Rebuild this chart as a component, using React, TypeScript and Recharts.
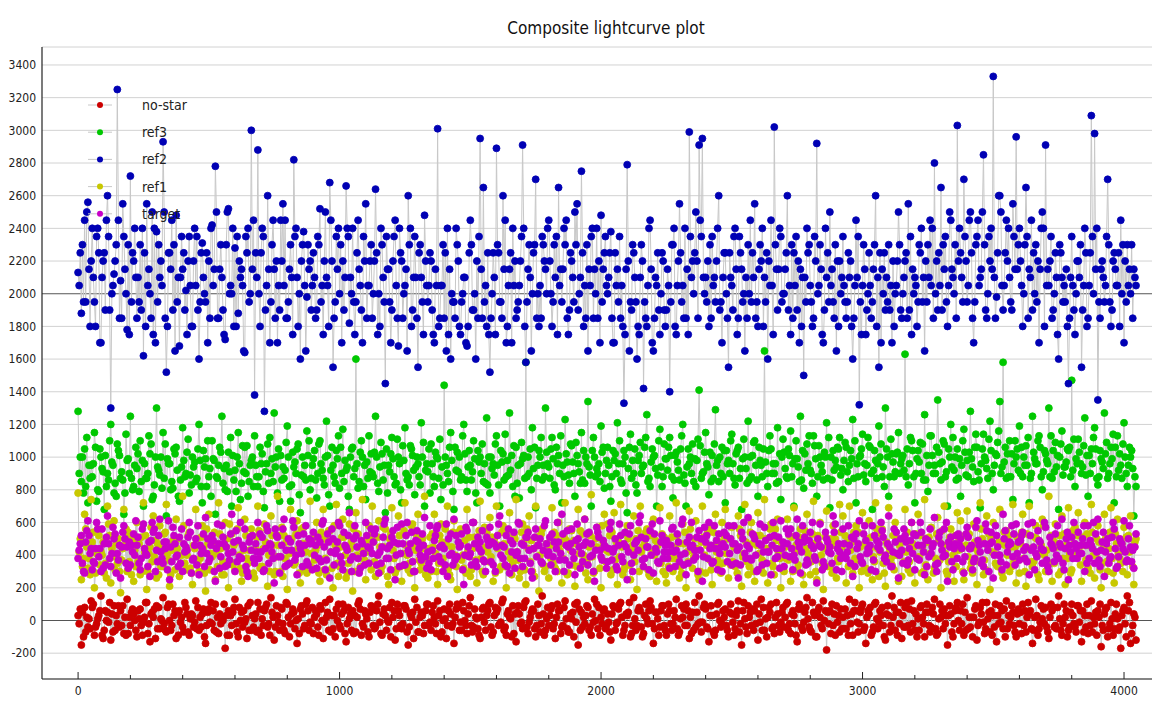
import React from "react";
import { ComposedChart, Line, XAxis, YAxis, CartesianGrid, ReferenceLine, Legend } from "recharts";

// Frame spacing of the sampled points: A, B, C samples are a third of a STEP apart
const STEP = 12.5;

const REF2_A = [
  2130, 1880, 2450, 2560, 2200, 1950, 2400, 1700, 2250, 2600, 1300, 2120, 3250, 2080, 2350, 1780, 2720, 2200,
  1850, 2300, 1620, 2550, 2000, 1750, 2380, 2100, 2930, 1520, 2250, 1900, 2480, 1680, 2150, 2020, 2350, 1800,
  2050, 1600, 2310, 1950, 2200, 2420, 2780, 1850, 2100, 1720, 2520, 2000, 2280, 1880, 2150, 1640, 2400, 3000,
  1380, 2880, 2250, 1280, 2600, 1950, 2150, 1700, 2450, 2050, 1850, 2300, 2820, 2100, 1600, 2380, 1980, 2200,
  2250, 1900, 2520, 1750, 2100, 2680, 1550, 2350, 2000, 2200, 2660, 1820, 2400, 1950, 2150, 1700, 2550, 2050,
  1850, 2640, 2000, 2300, 1450, 2150, 1900, 2450, 1680, 2200, 2050, 2600, 1800, 2350, 1550, 2100, 2480, 1950,
  2200, 1700, 3010, 2050, 1850, 2400, 1600, 1950, 2300, 1750, 2100, 1680, 2450, 1900, 2200, 2950, 2650, 1800,
  1520, 2250, 2890, 1950, 2600, 1700, 2150, 2400, 1850, 2050, 2910, 1580, 2300, 2000, 2700, 1800, 2350, 2150,
  2450, 1800, 2100, 2650, 1950, 2300, 1750, 2200, 2500, 1900, 2750, 2050, 1650, 2350, 2150, 1850, 2480, 2250,
  2000, 2380, 1700, 2150, 1850, 1330, 2790, 1950, 2250, 1600, 2100, 1420, 1800, 2450, 1650, 2050, 1750, 2200,
  1900, 1400, 2300, 1750, 2550, 2050, 1850, 2990, 2200, 2500, 2910, 2950, 2100, 1800, 2350, 1950, 2600, 1700,
  2250, 1550, 2050, 2400, 1850, 2150, 1650, 2300, 1950, 2550, 1800, 2200, 2100, 1600, 2450, 3020, 1900, 2350,
  2000, 2600, 1750, 2250, 1900, 2150, 1500, 2400, 2050, 1850, 2920, 2300, 1700, 2100, 2500, 1950, 1650, 2200,
  2350, 1850, 2100, 1600, 2450, 1320, 2050, 1750, 2250, 1950, 2600, 1550, 2150, 1900, 2300, 1700, 2000, 2500,
  1850, 2200, 2550, 1750, 2100, 1950, 2400, 1650, 2300, 2050, 2800, 1900, 2650, 2150, 1800, 2450, 2000, 3030,
  2250, 2700, 1950, 2500, 1700, 2350, 2100, 2850, 1850, 2200, 3330, 1980, 2600, 1900, 2450, 2100, 2550, 2960,
  2400, 1800, 2650, 2150, 1900, 2300, 1700, 2500, 2910, 2050, 1850, 2250, 1600, 2100, 1950, 1450, 2350, 1750,
  2200, 1550, 2400, 1850, 3090, 2980, 1350, 2150, 1950, 2700, 1800, 2250, 2050, 2450, 1700, 2300, 2000, 2150,
];
const REF2_B = [
  2050, 2300, 1950, 2150, 2400, 1800, 2250, 2100, 1900, 2350, 2000, 2200, 2450, 1850, 2150, 2300, 1950, 2400,
  2100, 1900, 2250, 2050, 1850, 2400, 1950, 2200, 2500, 1800, 2150, 2300, 1950, 2100, 2250, 1750, 2050, 2200,
  2350, 1950, 2100, 2250, 1850, 2050, 2500, 2150, 1900, 2300, 2000, 2400, 1800, 2200, 2050, 2350, 1950, 2150,
  2250, 2000, 2400, 1900, 2150, 2300, 1850, 2050, 2200, 2450, 1950, 2100, 2350, 1800, 2200, 2050, 2300, 1900,
  2100, 2350, 1950, 2200, 2050, 2450, 1850, 2150, 2300, 1900, 2400, 2100, 1950, 2250, 2050, 2350, 1850, 2200,
  2000, 2250, 1800, 2100, 2350, 1950, 2200, 2050, 2400, 1850, 2150, 2300, 1900, 2100, 2250, 1950, 2200, 2050,
  1900, 2150, 1800, 2050, 2250, 1750, 2000, 1850, 2200, 1950, 2100, 1800, 2300, 2000, 1850, 2150, 1950, 2250,
  1850, 2100, 2300, 1950, 2150, 1800, 2250, 2050, 1900, 2200, 2400, 1950, 2100, 2250, 1850, 2050, 2300, 2000,
  2200, 1950, 2350, 2050, 2150, 2450, 1900, 2100, 2300, 2000, 2250, 1850, 2150, 2400, 2000, 2200, 1950, 2350,
  2100, 1850, 2250, 1950, 2050, 1750, 2200, 1900, 2100, 1800, 2300, 1950, 2050, 2150, 1850, 2250, 2000, 1900,
  2150, 1950, 2400, 2050, 2250, 1850, 2150, 2350, 2000, 2200, 2450, 2100, 1950, 2300, 2050, 2200, 1900, 2100,
  2000, 2250, 1900, 2150, 2350, 1950, 2100, 2000, 2250, 1850, 2150, 2400, 1950, 2200, 2050, 2300, 2150, 1950,
  2150, 1900, 2300, 2050, 2200, 1800, 2100, 2250, 1950, 2350, 2000, 2150, 1900, 2250, 2050, 1850, 2200, 2000,
  2050, 1950, 2200, 1850, 2100, 1950, 2300, 1900, 2050, 2150, 1800, 2250, 2000, 2100, 1900, 2200, 2050, 2300,
  2000, 2250, 1900, 2150, 2050, 2300, 1950, 2200, 2100, 2400, 2000, 2250, 1900, 2350, 2050, 2150, 2300, 2200,
  2100, 2350, 2050, 2250, 1950, 2450, 2150, 2300, 2000, 2400, 2100, 2250, 2500, 2050, 2200, 1950, 2350, 2150,
  2200, 2000, 2350, 2100, 2250, 1950, 2150, 2400, 2050, 2200, 1900, 2100, 2300, 1950, 2150, 1850, 2050, 2000,
  2100, 1900, 2250, 2050, 2350, 2150, 1950, 2200, 2050, 2300, 1900, 2150, 2250, 2000, 2200, 2050, 2300, 2100,
];
const REF2_C = [
  2250, 1950, 2500, 1800, 2100, 2350, 1700, 2200, 2450, 1900, 2050, 2300, 1850, 2550, 2000, 1750, 2250, 2100,
  1950, 2400, 1800, 2150, 2500, 1700, 2300, 2050, 1850, 2250, 2450, 1650, 2100, 2350, 1900, 2200, 1800, 2400,
  1900, 2250, 2000, 1700, 2400, 2150, 1850, 2300, 1750, 2500, 2050, 1800, 2350, 2100, 1650, 2250, 2000, 2450,
  2100, 1800, 2350, 2050, 1700, 2450, 2200, 1900, 2550, 1850, 2150, 1750, 2400, 2000, 2300, 1650, 2150, 2050,
  1850, 2300, 2050, 2500, 1800, 2200, 1950, 2400, 1700, 2100, 2350, 2000, 1750, 2450, 1900, 2200, 2050, 2300,
  2200, 1750, 2400, 1950, 2150, 1700, 2350, 1850, 2250, 2000, 1650, 2400, 2100, 1850, 2300, 1750, 2050, 2250,
  1750, 2050, 1850, 2300, 1650, 2150, 1950, 2400, 1800, 2000, 1700, 2250, 1900, 1600, 2350, 1850, 2050, 1750,
  2000, 1750, 2250, 1850, 2450, 2050, 1700, 2200, 1950, 2350, 1800, 2150, 1650, 2300, 2000, 1850, 2200, 2400,
  2000, 2300, 1750, 2150, 2400, 1850, 2250, 1950, 2550, 2100, 1800, 2300, 2050, 1850, 2400, 1700, 2150, 2050,
  2250, 1700, 2050, 2350, 1800, 2150, 1650, 2300, 1950, 1750, 2200, 1850, 2400, 1700, 2100, 1900, 2250, 1800,
  2050, 2300, 1800, 2200, 1950, 2400, 1750, 2100, 2250, 1850, 2350, 2000, 2200, 1850, 2100, 2400, 1950, 2250,
  1850, 2100, 2350, 1750, 2250, 2000, 1850, 2450, 2100, 1950, 2300, 1800, 2250, 2050, 1750, 2150, 2400, 2000,
  2250, 2050, 1850, 2350, 1700, 2100, 1950, 2300, 1800, 2200, 2050, 1750, 2400, 1950, 2150, 2300, 1800, 2100,
  1950, 2250, 1800, 2050, 2350, 1750, 2150, 2000, 1850, 2300, 2100, 1700, 2250, 1950, 2050, 1800, 2200, 1900,
  2100, 1850, 2350, 2000, 1800, 2250, 2100, 1950, 2450, 1850, 2200, 2050, 2300, 1950, 2500, 2100, 1850, 2400,
  1950, 2200, 2450, 1850, 2300, 2050, 2500, 1900, 2350, 2150, 1850, 2600, 2050, 2250, 2400, 1900, 2150, 2300,
  2050, 2300, 1850, 2450, 2000, 2200, 2400, 1800, 2150, 2350, 2000, 1750, 2250, 2050, 1800, 2100, 1900, 2200,
  2300, 2050, 1800, 2250, 2000, 2400, 1850, 2100, 2350, 1950, 2200, 2050, 1800, 2300, 1950, 2150, 1850, 2050,
];

const REF3_A = [
  1280, 850, 1050, 720, 950, 1150, 800, 1000, 680, 900, 1200, 780, 1080, 870, 650, 980, 1250, 820,
  930, 1100, 700, 870, 1020, 760, 1300, 890, 1150, 640, 960, 810, 1060, 730, 1180, 900, 780, 1000,
  850, 1200, 720, 990, 880, 1100, 650, 950, 1250, 800, 1030, 700, 920, 1150, 840, 1060, 760, 980,
  1130, 820, 960, 690, 1080, 900, 1270, 780, 1010, 870, 1190, 730, 940, 1050, 660, 880, 1160, 800,
  990, 750, 1100, 870, 1220, 700, 950, 1040, 810, 1170, 920, 680, 1060, 1600, 850, 1000, 740, 1130,
  900, 1250, 790, 1020, 660, 950, 1120, 830, 1000, 720, 1180, 880, 1050, 770, 960, 1210, 700, 910,
  1080, 820, 990, 740, 1440, 900, 1150, 680, 1030, 860, 1200, 790, 950, 1100, 720, 1000, 850, 1240,
  780, 960, 1130, 700, 1020, 880, 1270, 820, 1060, 750, 990, 1580, 900, 1180, 690, 1040, 860, 1300,
  940, 1120, 800, 1010, 720, 1230, 890, 1070, 760, 960, 1150, 840, 1340, 700, 1000, 900, 1190, 810,
  1060, 730, 980, 1210, 860, 1040, 660, 1140, 900, 780, 1090, 950, 1260, 820, 1000, 700, 1170, 880,
  990, 1120, 750, 1030, 860, 1200, 700, 960, 1080, 820, 1410, 900, 1150, 770, 1010, 1290, 850, 1060,
  720, 980, 1140, 830, 1060, 680, 1000, 1220, 880, 1100, 760, 950, 1650, 820, 1050, 900, 1180, 740,
  1030, 870, 1160, 700, 990, 1250, 810, 1080, 920, 1130, 760, 1000, 860, 1210, 690, 1040, 940, 1120,
  800, 1060, 950, 1230, 720, 1000, 1140, 850, 1070, 680, 980, 1190, 880, 1300, 760, 1020, 910, 1150,
  990, 1630, 830, 1100, 720, 1040, 900, 1260, 790, 1130, 950, 1350, 860, 1080, 700, 1200, 920, 1050,
  760, 1170, 980, 1280, 850, 1060, 690, 1140, 930, 1220, 800, 1010, 1340, 1580, 870, 1100, 740, 1000,
  1190, 880, 1070, 720, 1250, 960, 1130, 800, 1020, 1300, 870, 1090, 680, 1160, 940, 1040, 1470, 820,
  1110, 900, 1240, 760, 1050, 1180, 830, 990, 1270, 870, 1060, 720, 1130, 950, 1210, 820, 1000, 640,
];
const REF3_B = [
  900, 1000, 820, 950, 880, 1060, 790, 930, 1010, 860, 970, 840, 1040, 910, 780, 990, 870, 950,
  1020, 850, 960, 900, 1080, 830, 940, 1000, 870, 990, 800, 1050, 920, 860, 980, 1030, 890, 940,
  870, 980, 1040, 820, 930, 990, 880, 1060, 840, 950, 910, 1010, 790, 960, 1070, 900, 850, 1000,
  950, 880, 1020, 910, 840, 990, 940, 1050, 860, 920, 1000, 830, 970, 1080, 890, 950, 1010, 870,
  1040, 900, 960, 830, 1010, 920, 880, 990, 1060, 850, 940, 1000, 880, 960, 1030, 820, 970, 910,
  880, 1000, 940, 860, 1050, 910, 990, 840, 960, 1070, 900, 830, 1010, 940, 880, 1000, 920, 1050,
  960, 1030, 870, 940, 1000, 850, 980, 1060, 910, 880, 1020, 940, 860, 990, 1040, 900, 960, 830,
  1000, 890, 950, 1040, 860, 980, 920, 1070, 840, 960, 1010, 880, 1050, 930, 870, 1000, 950, 1030,
  870, 990, 1060, 900, 950, 1020, 840, 970, 1090, 910, 860, 1000, 940, 1040, 880, 960, 1030, 900,
  950, 880, 1020, 960, 840, 1000, 930, 870, 1050, 980, 900, 1060, 850, 970, 1010, 890, 940, 1080,
  920, 1010, 860, 970, 1050, 890, 940, 1000, 850, 980, 1070, 910, 960, 1030, 870, 950, 1000, 880,
  1040, 900, 960, 1020, 870, 990, 930, 860, 1010, 950, 1060, 880, 970, 1040, 900, 960, 850, 1000,
  930, 1050, 880, 990, 940, 860, 1020, 960, 900, 1070, 880, 950, 1030, 870, 1000, 920, 1060, 890,
  980, 910, 1040, 870, 960, 1010, 890, 950, 1060, 920, 870, 1000, 940, 1050, 880, 970, 1020, 900,
  1010, 880, 960, 1040, 900, 970, 1080, 860, 950, 1010, 900, 1030, 970, 880, 1050, 940, 1000, 870,
  950, 1030, 880, 990, 1060, 910, 960, 1000, 870, 1040, 950, 1090, 900, 970, 1020, 880, 960, 1050,
  900, 1000, 950, 870, 1030, 960, 1060, 910, 980, 880, 1040, 940, 1000, 890, 970, 1060, 920, 990,
  1030, 940, 890, 1010, 960, 1050, 880, 970, 1020, 900, 990, 1060, 920, 870, 1000, 950, 1040, 880,
];
const REF3_C = [
  1000, 780, 1120, 870, 960, 730, 1050, 910, 820, 1100, 950, 760, 1010, 860, 1140, 900, 800, 1060,
  790, 980, 870, 1130, 740, 1000, 920, 810, 1080, 960, 850, 1020, 760, 940, 880, 1110, 830, 970,
  1050, 820, 940, 1100, 760, 980, 870, 1030, 930, 790, 1120, 860, 1000, 740, 910, 1070, 950, 820,
  880, 1060, 790, 960, 1120, 850, 1000, 730, 940, 1090, 820, 1030, 900, 770, 1000, 860, 1100, 950,
  860, 1080, 920, 1000, 770, 1060, 840, 1130, 900, 980, 760, 1050, 930, 810, 1100, 950, 870, 1020,
  1030, 840, 1090, 950, 780, 1020, 880, 1110, 800, 980, 860, 1070, 920, 1000, 830, 1090, 960, 780,
  880, 1000, 1110, 830, 950, 1060, 790, 920, 1000, 1130, 860, 1040, 910, 780, 970, 1080, 840, 1000,
  930, 1080, 830, 970, 1140, 890, 1010, 760, 950, 1090, 870, 1000, 800, 1060, 950, 1120, 880, 960,
  1050, 830, 960, 1130, 880, 970, 1080, 900, 1010, 840, 1040, 960, 890, 1120, 930, 850, 1060, 980,
  820, 1040, 900, 1100, 960, 780, 1060, 980, 830, 1010, 940, 1120, 870, 1050, 930, 1100, 820, 990,
  1060, 880, 1010, 920, 1130, 840, 1050, 900, 990, 1110, 870, 1030, 940, 850, 1080, 980, 900, 1040,
  960, 1100, 870, 1040, 930, 1110, 840, 1000, 1090, 860, 980, 1050, 900, 1130, 960, 840, 1020, 1110,
  880, 1010, 960, 1100, 850, 1040, 920, 1130, 840, 990, 1070, 910, 1000, 1120, 860, 980, 1050, 930,
  1090, 850, 990, 1100, 880, 1050, 960, 1120, 900, 1040, 960, 1080, 820, 1000, 1110, 880, 1030, 960,
  920, 1050, 1120, 880, 990, 1090, 860, 1010, 1130, 900, 1060, 960, 1100, 910, 1000, 1120, 860, 990,
  1100, 890, 1030, 940, 1140, 860, 1050, 980, 1110, 900, 1020, 1160, 940, 1060, 880, 1020, 1100, 920,
  1060, 950, 1120, 900, 990, 1100, 880, 1040, 960, 1130, 910, 1010, 1080, 940, 1050, 880, 1110, 960,
  960, 1070, 1010, 900, 1120, 870, 1040, 930, 1090, 960, 1140, 880, 1020, 1080, 900, 1060, 930, 820,
];

const REF1_A = [
  780, 250, 650, 320, 740, 200, 560, 420, 290, 700, 230, 610, 350, 170, 680, 300, 520, 240,
  600, 280, 720, 190, 450, 640, 260, 580, 330, 710, 210, 490, 620, 270, 760, 310, 540, 220,
  680, 300, 580, 180, 650, 390, 250, 720, 280, 600, 200, 530, 310, 690, 240, 620, 350, 560,
  260, 700, 330, 590, 210, 640, 280, 760, 300, 520, 190, 680, 340, 610, 230, 570, 290, 730,
  320, 600, 240, 680, 280, 550, 200, 710, 330, 620, 260, 590, 180, 660, 300, 740, 250, 580,
  700, 270, 610, 330, 560, 220, 690, 290, 640, 240, 720, 310, 580, 200, 650, 350, 760, 260,
  300, 650, 220, 590, 340, 700, 250, 610, 190, 560, 320, 680, 270, 600, 230, 730, 280, 540,
  630, 240, 700, 310, 580, 200, 660, 350, 740, 260, 590, 220, 640, 300, 700, 180, 560, 330,
  260, 690, 320, 600, 230, 720, 290, 550, 210, 680, 340, 620, 250, 770, 300, 570, 200, 650,
  590, 280, 660, 220, 710, 310, 580, 250, 640, 190, 700, 330, 560, 270, 620, 240, 690, 300,
  230, 640, 300, 720, 260, 590, 200, 670, 320, 610, 250, 700, 290, 560, 220, 650, 340, 600,
  680, 260, 570, 330, 640, 210, 710, 280, 600, 240, 660, 310, 740, 230, 590, 280, 620, 200,
  300, 620, 240, 690, 310, 560, 220, 650, 280, 730, 250, 600, 190, 670, 330, 580, 260, 710,
  640, 230, 700, 290, 580, 200, 660, 320, 610, 250, 720, 270, 560, 210, 690, 340, 600, 240,
  270, 680, 310, 600, 230, 650, 290, 740, 250, 570, 320, 630, 200, 700, 280, 560, 240, 660,
  610, 250, 670, 320, 590, 220, 720, 280, 640, 190, 600, 340, 680, 260, 550, 300, 710, 230,
  290, 650, 210, 700, 330, 580, 250, 620, 300, 760, 240, 590, 280, 640, 220, 690, 310, 570,
  660, 240, 600, 320, 710, 260, 580, 200, 650, 300, 690, 230, 620, 350, 570, 280, 640, 220,
];
const REF1_B = [
  420, 330, 560, 380, 480, 290, 520, 400, 350, 590, 440, 310, 500, 370, 460, 540, 280, 430,
  360, 510, 420, 300, 570, 390, 470, 330, 530, 410, 280, 490, 440, 350, 580, 400, 320, 460,
  500, 380, 440, 560, 310, 470, 410, 530, 360, 450, 590, 340, 480, 400, 290, 520, 430, 370,
  440, 550, 330, 480, 400, 520, 300, 460, 570, 380, 430, 500, 350, 440, 560, 310, 480, 410,
  370, 460, 540, 310, 490, 420, 580, 350, 450, 510, 290, 440, 560, 400, 330, 480, 420, 520,
  480, 340, 450, 570, 380, 500, 430, 310, 520, 410, 460, 350, 590, 430, 370, 500, 280, 440,
  530, 410, 350, 480, 560, 320, 450, 400, 540, 370, 490, 430, 310, 510, 450, 380, 570, 420,
  390, 500, 440, 330, 470, 550, 380, 520, 420, 300, 480, 560, 360, 440, 510, 400, 340, 470,
  460, 350, 520, 430, 380, 490, 560, 340, 470, 410, 530, 290, 450, 390, 500, 440, 580, 360,
  420, 540, 370, 480, 450, 330, 500, 430, 360, 550, 420, 470, 310, 520, 400, 460, 350, 510,
  480, 380, 450, 520, 330, 470, 420, 560, 390, 440, 300, 510, 460, 370, 540, 420, 480, 350,
  410, 500, 360, 440, 560, 390, 480, 330, 470, 520, 410, 370, 500, 440, 350, 560, 420, 470,
  450, 370, 510, 420, 340, 490, 550, 410, 360, 470, 520, 400, 440, 330, 500, 460, 380, 540,
  390, 480, 430, 540, 370, 450, 310, 500, 440, 390, 560, 420, 350, 480, 430, 520, 400, 460,
  500, 420, 360, 470, 530, 390, 450, 340, 510, 460, 380, 490, 550, 410, 360, 470, 520, 430,
  440, 520, 390, 350, 480, 420, 560, 370, 460, 500, 410, 330, 470, 540, 400, 450, 360, 510,
  470, 380, 530, 440, 360, 500, 410, 580, 430, 350, 490, 450, 520, 380, 460, 410, 550, 400,
  420, 510, 370, 460, 540, 400, 480, 350, 500, 440, 380, 530, 410, 470, 360, 520, 440, 480,
];
const REF1_C = [
  500, 380, 450, 280, 540, 410, 340, 480, 260, 520, 390, 470, 300, 440, 560, 360, 490, 330,
  470, 300, 520, 410, 360, 490, 280, 450, 540, 370, 430, 310, 500, 400, 350, 520, 290, 440,
  350, 510, 290, 470, 410, 540, 330, 440, 280, 500, 360, 460, 560, 320, 430, 380, 510, 290,
  510, 320, 440, 560, 300, 460, 390, 520, 270, 480, 410, 350, 530, 290, 470, 420, 340, 500,
  430, 290, 500, 380, 550, 320, 460, 270, 510, 400, 350, 480, 300, 530, 440, 370, 490, 310,
  360, 510, 300, 450, 270, 530, 380, 470, 330, 550, 400, 290, 460, 520, 310, 440, 380, 510,
  450, 300, 520, 380, 470, 280, 540, 330, 460, 400, 290, 510, 440, 370, 550, 300, 450, 360,
  510, 290, 460, 540, 330, 420, 280, 500, 370, 540, 310, 440, 490, 270, 460, 530, 300, 420,
  380, 540, 300, 470, 510, 280, 430, 490, 330, 550, 400, 360, 520, 290, 450, 320, 480, 430,
  520, 310, 480, 390, 280, 530, 340, 460, 500, 300, 450, 540, 280, 420, 490, 350, 530, 280,
  330, 510, 380, 470, 290, 540, 360, 430, 500, 280, 480, 400, 540, 310, 460, 370, 290, 520,
  500, 340, 450, 290, 520, 410, 360, 540, 300, 460, 520, 290, 440, 560, 330, 490, 380, 310,
  380, 520, 300, 460, 510, 280, 440, 390, 530, 300, 470, 350, 510, 420, 290, 500, 360, 450,
  520, 330, 480, 380, 540, 300, 470, 290, 510, 360, 440, 530, 290, 460, 380, 310, 500, 420,
  360, 540, 290, 450, 380, 520, 300, 480, 410, 290, 530, 370, 460, 300, 510, 400, 330, 490,
  300, 460, 530, 290, 440, 360, 500, 310, 530, 420, 350, 480, 290, 460, 520, 330, 450, 370,
  540, 300, 440, 360, 510, 280, 460, 400, 300, 520, 350, 470, 300, 530, 380, 290, 470, 520,
  340, 460, 530, 290, 400, 500, 310, 450, 360, 540, 290, 470, 380, 300, 510, 420, 330, 500,
];

const TARGET_A = [
  380, 520, 290, 610, 440, 350, 560, 300, 470, 640, 330, 500, 410, 260, 580, 450, 340, 530,
  460, 310, 590, 400, 270, 540, 430, 620, 350, 480, 250, 570, 390, 510, 300, 450, 600, 370,
  500, 280, 440, 630, 360, 520, 240, 470, 580, 330, 410, 650, 300, 490, 380, 560, 270, 430,
  350, 600, 420, 310, 550, 460, 230, 510, 390, 620, 340, 480, 570, 280, 440, 530, 360, 470,
  540, 320, 480, 610, 370, 260, 500, 430, 580, 310, 450, 660, 390, 520, 290, 470, 600, 350,
  410, 560, 290, 450, 620, 380, 510, 250, 470, 590, 340, 430, 540, 300, 480, 370, 630, 420,
  310, 490, 580, 360, 440, 270, 530, 620, 390, 460, 220, 550, 410, 600, 330, 480, 370, 510,
  570, 340, 450, 640, 380, 520, 290, 470, 400, 590, 330, 510, 430, 260, 560, 460, 350, 610,
  420, 530, 300, 480, 650, 370, 450, 560, 280, 500, 410, 620, 340, 470, 240, 540, 390, 460,
  360, 600, 440, 310, 520, 470, 250, 580, 400, 490, 640, 330, 450, 550, 290, 420, 610, 380,
  490, 320, 570, 430, 360, 620, 280, 510, 460, 390, 550, 240, 480, 600, 350, 440, 530, 300,
  450, 580, 340, 470, 260, 540, 410, 630, 370, 500, 310, 460, 570, 420, 280, 520, 390, 610,
  330, 470, 560, 400, 620, 290, 480, 370, 540, 440, 230, 590, 360, 500, 450, 640, 310, 420,
  560, 380, 460, 270, 530, 610, 350, 490, 420, 580, 300, 470, 550, 400, 640, 330, 480, 260,
  430, 520, 370, 600, 310, 460, 540, 280, 490, 410, 630, 350, 470, 560, 240, 510, 440, 380,
  500, 290, 570, 440, 360, 610, 420, 330, 550, 470, 260, 520, 400, 650, 340, 480, 390, 590,
  370, 540, 450, 280, 600, 410, 490, 350, 570, 300, 460, 530, 380, 620, 440, 250, 510, 470,
  540, 410, 300, 580, 460, 350, 620, 430, 270, 500, 390, 560, 330, 480, 610, 370, 450, 320,
];
const TARGET_B = [
  430, 350, 480, 520, 310, 440, 390, 560, 340, 470, 410, 530, 370, 450, 500, 320, 460, 400,
  510, 380, 440, 330, 490, 560, 360, 420, 480, 310, 450, 520, 400, 350, 470, 430, 540, 380,
  340, 460, 530, 410, 380, 490, 440, 320, 510, 450, 370, 420, 550, 390, 460, 330, 480, 520,
  470, 380, 510, 440, 350, 420, 560, 390, 460, 330, 500, 430, 370, 520, 410, 460, 340, 490,
  400, 510, 360, 450, 530, 420, 340, 480, 390, 540, 430, 370, 500, 450, 320, 410, 520, 440,
  480, 340, 420, 510, 380, 460, 550, 400, 330, 470, 520, 410, 360, 490, 440, 530, 390, 350,
  430, 520, 390, 460, 340, 500, 410, 370, 480, 530, 400, 450, 340, 470, 510, 420, 360, 490,
  360, 470, 520, 400, 450, 330, 490, 540, 420, 380, 460, 510, 350, 440, 390, 500, 430, 470,
  510, 390, 440, 370, 530, 460, 340, 420, 490, 450, 360, 480, 540, 400, 430, 510, 370, 450,
  440, 370, 500, 460, 390, 540, 420, 350, 470, 430, 510, 380, 450, 400, 530, 360, 480, 420,
  380, 460, 420, 530, 400, 340, 480, 450, 370, 510, 430, 390, 520, 440, 360, 490, 410, 470,
  520, 410, 470, 350, 450, 500, 380, 440, 530, 400, 470, 340, 490, 420, 460, 380, 510, 440,
  400, 530, 440, 370, 480, 420, 510, 350, 460, 390, 500, 450, 330, 480, 410, 540, 440, 380,
  470, 420, 350, 500, 440, 390, 530, 410, 460, 370, 490, 430, 510, 360, 450, 420, 540, 400,
  350, 480, 440, 410, 520, 370, 460, 500, 390, 450, 340, 510, 430, 400, 480, 360, 470, 530,
  440, 390, 510, 460, 380, 490, 350, 470, 430, 540, 400, 450, 360, 500, 420, 470, 530, 410,
  490, 430, 360, 520, 450, 390, 480, 430, 370, 510, 440, 400, 470, 350, 500, 460, 380, 440,
  410, 500, 460, 380, 440, 530, 370, 480, 420, 350, 510, 440, 390, 470, 420, 500, 360, 450,
];
const TARGET_C = [
  470, 300, 550, 410, 360, 600, 440, 320, 510, 380, 570, 290, 460, 540, 350, 480, 420, 610,
  350, 560, 410, 480, 600, 300, 520, 380, 440, 610, 360, 470, 330, 560, 420, 510, 290, 460,
  580, 410, 330, 500, 460, 300, 590, 390, 470, 340, 530, 480, 360, 600, 440, 300, 510, 380,
  420, 530, 300, 580, 470, 380, 520, 290, 560, 430, 350, 610, 400, 470, 330, 580, 500, 310,
  460, 380, 590, 310, 480, 560, 410, 600, 350, 460, 520, 300, 580, 380, 490, 340, 450, 560,
  530, 400, 350, 590, 440, 310, 480, 570, 410, 340, 600, 470, 300, 550, 400, 460, 320, 580,
  380, 560, 450, 300, 590, 400, 340, 520, 450, 310, 570, 390, 600, 360, 440, 550, 300, 460,
  480, 300, 590, 460, 340, 560, 420, 320, 600, 470, 380, 540, 300, 510, 460, 360, 580, 400,
  340, 480, 600, 410, 300, 550, 470, 380, 590, 320, 460, 530, 390, 300, 570, 430, 490, 320,
  560, 420, 330, 590, 360, 450, 530, 300, 480, 600, 370, 500, 310, 590, 440, 350, 520, 460,
  420, 560, 330, 480, 590, 410, 350, 600, 430, 300, 500, 570, 380, 460, 580, 310, 450, 540,
  360, 500, 580, 430, 340, 600, 460, 380, 520, 300, 590, 420, 350, 510, 600, 440, 320, 480,
  560, 390, 310, 520, 450, 580, 340, 490, 600, 370, 460, 310, 540, 420, 350, 590, 470, 300,
  400, 580, 510, 330, 470, 360, 580, 440, 310, 520, 450, 600, 380, 470, 330, 560, 410, 500,
  560, 340, 490, 530, 380, 600, 420, 330, 560, 470, 300, 540, 390, 600, 450, 310, 520, 460,
  360, 530, 440, 310, 570, 460, 370, 590, 300, 480, 580, 400, 310, 550, 460, 580, 340, 480,
  520, 380, 590, 430, 310, 550, 440, 600, 330, 470, 360, 580, 450, 310, 540, 420, 600, 380,
  460, 580, 350, 490, 600, 420, 330, 540, 470, 380, 600, 320, 500, 440, 360, 580, 430, 530,
];

const NOSTAR_A = [
  30, -150, 80, -40, 120, -90, 10, 150, -60, 50, -120, 90, -20, 60, -80, 130, -30, 40,
  -100, 70, -10, 110, -130, 20, 90, -50, 140, -70, 0, 100, -110, 60, -40, 80, -90, 30,
  120, -60, 40, -140, 70, -20, 100, -80, 20, -170, 60, -30, 130, -100, 50, -10, 90, -60,
  10, 110, -90, 60, -40, 140, -120, 30, 80, -60, 100, -20, 50, -140, 70, -50, 120, -10,
  -80, 40, 90, -110, 20, 130, -50, 70, -30, 100, -130, 10, 60, -70, 120, -20, 40, -100,
  80, -40, 150, -90, 30, -10, 110, -120, 60, -50, 90, -150, 20, 130, -70, 50, -30, 100,
  -60, 20, 120, -100, 70, -30, 40, -140, 100, -10, 60, -80, 140, -40, 10, -110, 80, 30,
  110, -70, 50, -20, 130, -90, 20, 90, -130, 40, -50, 120, -10, 70, -100, 30, 150, -60,
  -30, 90, -110, 60, -40, 120, -70, 10, 100, -150, 50, -20, 80, -90, 130, -50, 20, 70,
  40, -120, 80, -10, 110, -60, 30, -100, 140, -30, 60, -80, 10, 120, -140, 50, -40, 90,
  -90, 60, -20, 130, -70, 20, 100, -110, 50, -40, 150, -10, 70, -130, 30, -60, 110, -20,
  70, -100, 40, -50, 120, -150, 10, 90, -30, 60, -120, 130, -60, 20, 100, -80, 40, -10,
  -40, 110, -80, 30, -130, 70, -10, 140, -60, 50, -100, 20, 120, -180, 60, -30, 90, -70,
  20, -50, 130, -90, 60, -20, 100, -140, 40, -70, 110, -10, 80, -120, 30, 150, -60, 50,
  -110, 80, -30, 120, -60, 10, 90, -100, 50, -40, 130, -80, 20, 70, -150, 40, -20, 110,
  60, -90, 140, -40, 20, -120, 80, -10, 110, -70, 30, -130, 90, -50, 120, -20, 50, -100,
  -20, 100, -70, 40, -140, 130, -50, 10, 80, -110, 60, -30, 150, -90, 20, -60, 100, -40,
  90, -130, 30, -80, 120, -20, 60, -160, 40, -100, 110, -50, 10, -170, 80, 150, -140, 40,
];
const NOSTAR_B = [
  -20, 50, -70, 10, 80, -40, 30, -90, 60, -10, 40, -60, 90, -30, 20, -80, 50, 0,
  60, -30, 20, -80, 40, 70, -50, 10, -20, 80, -60, 30, 50, -10, -70, 40, 10, -40,
  -50, 20, 70, -30, -10, 60, -70, 40, 0, 30, -90, 50, -20, 80, -40, 10, -60, 30,
  40, -60, 10, 80, -20, 50, -40, -10, 70, -80, 20, 40, -50, 10, 90, -30, 60, -20,
  20, -40, 70, -10, 50, -70, 30, 0, -50, 60, -20, 40, -80, 20, 70, -40, 10, 50,
  -30, 60, -10, 40, -60, 80, 20, -50, 30, -20, 70, -40, 50, -10, -70, 30, 60, -30,
  50, -20, 30, -70, 10, 60, -40, 20, 80, -60, 0, 40, -30, 70, -50, 20, -10, 60,
  -40, 30, 70, -10, -60, 40, 10, -80, 50, -20, 80, -40, 20, 60, -30, -70, 40, 10,
  30, -50, 20, 60, -30, 10, -70, 50, -10, 70, -40, 30, -60, 40, 0, 80, -20, -50,
  -10, 40, -60, 70, 20, -30, 50, -80, 10, 60, -40, 30, -20, 80, -50, 10, 60, -30,
  40, -20, 60, -50, 10, 70, -30, 20, -60, 50, -10, 80, -40, 30, -70, 40, 0, 60,
  -30, 50, -10, 30, -70, 60, -40, 20, 70, -20, 40, -60, 10, 80, -50, 20, -30, 50,
  20, -60, 40, -20, 70, -40, 50, 10, -70, 30, 60, -30, 0, 50, -80, 40, -10, 70,
  -50, 30, -20, 60, -10, 50, -60, 20, 80, -40, 10, 60, -30, 40, -70, 20, 50, -20,
  30, -40, 70, -20, 40, -60, 20, 50, -30, 80, -50, 10, 60, -20, 30, -70, 60, 0,
  -20, 50, -50, 20, 70, -30, 40, -80, 10, 60, -40, 30, -10, 70, -50, 20, -30, 40,
  50, -30, 20, 60, -60, 30, -10, 70, -40, 20, 80, -50, 10, -20, 60, -40, 30, -70,
  -10, 60, -40, 30, -70, 50, 20, -30, 70, -50, 10, 40, -60, 30, -20, 60, -80, 20,
];
const NOSTAR_C = [
  70, -100, 20, -50, 100, -20, 60, -110, 0, 110, -70, 30, -40, 90, -90, 20, 70, -60,
  10, -90, 110, -20, 50, -110, 80, 0, -60, 100, -30, 60, -90, 20, 110, -70, 40, -10,
  80, -40, -100, 50, 110, -60, 20, -20, 100, -90, 30, 80, -70, 0, 60, -110, 110, -40,
  -70, 70, -30, 100, -90, 20, 90, -60, -20, 110, -100, 70, 0, -80, 40, 100, -60, 80,
  60, -90, 0, 110, -60, 30, -100, 100, 40, -80, 80, -60, 30, 100, -90, 60, -70, 90,
  -50, 100, -80, 70, 0, -100, 60, 100, -30, 90, -70, 40, -110, 80, 20, -80, 100, -10,
  90, -80, 60, 0, -110, 100, -20, 70, -60, 110, -30, 90, -70, 20, -90, 70, -60, 100,
  -90, 80, -30, 110, -40, 60, -100, 40, 90, -10, 110, -80, 50, -50, 100, -20, -90, 80,
  70, -20, 100, -80, 80, -50, 40, -100, 110, -60, 20, 90, -40, -10, 100, -90, 60, -30,
  -70, 90, -20, 100, -90, 40, 110, -30, -60, 80, -100, 100, 60, -20, 50, -90, 90, -60,
  100, -60, 20, -90, 90, -30, 60, -80, 110, -20, -70, 100, -50, 90, -90, 100, -40, 20,
  -60, 100, -90, 60, -20, 110, -80, 50, -60, 100, -10, 80, -100, 50, -40, 110, -70, 80,
  100, -20, 60, -90, 100, -60, 80, -40, 110, -100, 80, -50, 60, -20, 100, -90, 30, -50,
  70, -90, 40, 110, -70, 80, -40, 60, -90, 100, -50, 30, -100, 90, -30, 80, -90, 110,
  -40, 110, -70, 60, -100, 80, -20, 100, -70, 40, -90, 100, -50, 30, 90, -100, 80, -60,
  100, -60, 20, -100, 90, -10, 110, -50, 50, -90, 100, -20, 60, -100, 30, 90, -70, 70,
  -80, 60, 110, -50, 20, -90, 90, -20, -70, 100, -40, 80, -60, 100, -100, 50, -20, 90,
  60, -70, 100, -30, 20, -90, 100, -60, 80, -20, -90, 100, -40, 60, -100, 110, -30, -120,
];

const Y_TICKS = [-200, 0, 200, 400, 600, 800, 1000, 1200, 1400, 1600, 1800, 2000, 2200, 2400, 2600, 2800, 3000, 3200, 3400];
const X_TICKS = [0, 200, 400, 600, 800, 1000, 1200, 1400, 1600, 1800, 2000, 2200, 2400, 2600, 2800, 3000, 3200, 3400, 3600, 3800, 4000];
const X_MAJOR = [0, 1000, 2000, 3000, 4000];

const SERIES = [
  { key: "nostar", name: "no-star", color: "#cc0000" },
  { key: "ref3", name: "ref3", color: "#00c800" },
  { key: "ref2", name: "ref2", color: "#0000b4" },
  { key: "ref1", name: "ref1", color: "#c8c800" },
  { key: "target", name: "target", color: "#c800c8" },
];
// drawing order (bottom to top)
const DRAW_ORDER = ["ref3", "ref2", "ref1", "target", "nostar"];

const SAMPLE_SETS = [
  { nostar: NOSTAR_A, ref3: REF3_A, ref2: REF2_A, ref1: REF1_A, target: TARGET_A },
  { nostar: NOSTAR_B, ref3: REF3_B, ref2: REF2_B, ref1: REF1_B, target: TARGET_B },
  { nostar: NOSTAR_C, ref3: REF3_C, ref2: REF2_C, ref1: REF1_C, target: TARGET_C },
];

const data: any[] = [];
REF2_A.forEach((_, i) => {
  SAMPLE_SETS.forEach((set, k) => {
    data.push({
      x: i * STEP + (k * STEP) / SAMPLE_SETS.length,
      nostar: set.nostar[i],
      ref3: set.ref3[i],
      ref2: set.ref2[i],
      ref1: set.ref1[i],
      target: set.target[i],
    });
  });
});

const FONT = "'DejaVu Sans Condensed', 'DejaVu Sans', sans-serif";

const XTick = (props: any) => {
  const { x, y, payload } = props;
  const major = X_MAJOR.includes(payload.value);
  return (
    <g>
      <line x1={x} x2={x} y1={y} y2={y - (major ? 7 : 4)} stroke="#222" strokeWidth={1} />
      {major && (
        <text x={x} y={y + 16} textAnchor="middle" fontSize={12} fill="#222" fontFamily={FONT}>
          {payload.value}
        </text>
      )}
    </g>
  );
};

const renderLegend = () => (
  <svg width={160} height={140}>
    {SERIES.map((s, k) => {
      const cy = 10 + k * 27.2;
      return (
        <g key={s.key}>
          <line x1={3} x2={27} y1={cy} y2={cy} stroke="#c8c8c8" strokeWidth={1} />
          <circle cx={15} cy={cy} r={3} fill={s.color} />
          <text x={57} y={cy + 5} fontSize={14} fill="#222" fontFamily={FONT}>
            {s.name}
          </text>
        </g>
      );
    })}
  </svg>
);

export default function App() {
  return (
    <div style={{ position: "absolute", left: 0, top: 0, width: 1152, height: 707, background: "#fff" }}>
      <div
        style={{
          position: "absolute",
          left: 356,
          width: 500,
          top: 18,
          textAlign: "center",
          fontFamily: FONT,
          fontSize: 17,
          color: "#111",
        }}
      >
        Composite lightcurve plot
      </div>
      <ComposedChart width={1152} height={707} data={data} margin={{ top: 47, right: 0, bottom: 0, left: 0 }}>
        <CartesianGrid vertical={false} stroke="#d2d2d2" strokeWidth={1} />
        <XAxis
          dataKey="x"
          type="number"
          domain={[-138, 4107]}
          ticks={X_TICKS}
          allowDataOverflow
          height={28}
          tickSize={0}
          tickMargin={0}
          tickLine={false}
          axisLine={{ stroke: "#222", strokeWidth: 1.2 }}
          tick={<XTick />}
          interval={0}
        />
        <YAxis
          type="number"
          domain={[-358, 3510]}
          ticks={Y_TICKS}
          allowDataOverflow
          width={42}
          tickSize={0}
          tickMargin={6}
          tickLine={false}
          interval={0}
          axisLine={{ stroke: "#222", strokeWidth: 1.2 }}
          tick={{ fontSize: 12, fill: "#222", fontFamily: FONT }}
        />
        <ReferenceLine y={0} stroke="#555" strokeWidth={1} />
        <ReferenceLine y={2000} stroke="#666" strokeWidth={1} />
        {DRAW_ORDER.map((key) => {
          const s = SERIES.find((t) => t.key === key)!;
          return (
            <Line
              key={key}
              dataKey={key}
              name={s.name}
              type="linear"
              stroke="#c8c8c8"
              strokeWidth={1}
              dot={{ r: 3.5, fill: s.color, stroke: s.color, strokeWidth: 0.8 }}
              activeDot={false}
              isAnimationActive={false}
              legendType="circle"
            />
          );
        })}
        <Legend
          layout="vertical"
          align="center"
          verticalAlign="middle"
          wrapperStyle={{ position: "absolute", left: 85, top: 95, width: 160, height: 140 }}
          content={renderLegend}
        />
      </ComposedChart>
    </div>
  );
}
